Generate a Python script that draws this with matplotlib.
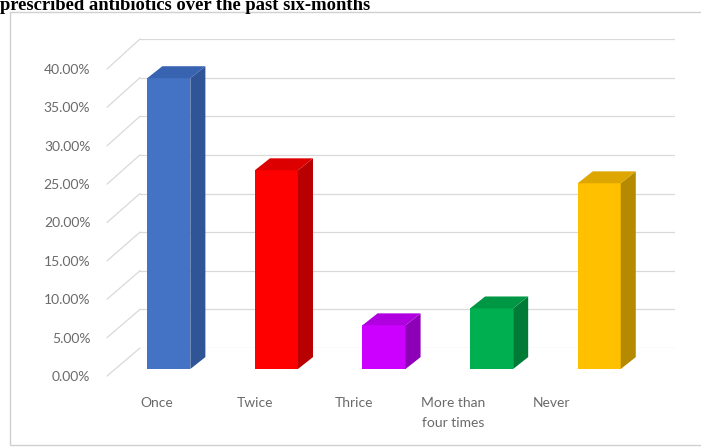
import matplotlib
matplotlib.use("Agg")
import matplotlib.pyplot as plt
from matplotlib.patches import Polygon, Rectangle, ConnectionPatch

# survey answers and shares (%)
categories = ["Once", "Twice", "Thrice", "More than\nfour times", "Never"]
shares = [37.9, 25.9, 5.7, 7.9, 24.2]
y_ticks = [0, 5, 10, 15, 20, 25, 30, 35, 40]
y_labels = ["%.2f%%" % t for t in y_ticks]

# front / side / top colours for each bar
face_colors = ["#4472C4", "#FF0000", "#CC00FF", "#00B050", "#FFC000"]
side_colors = ["#2F5597", "#B80000", "#8E00B8", "#007A37", "#B58A00"]
top_colors = ["#3763B0", "#DD0000", "#B000E0", "#009744", "#DDA600"]

GRID = "#D9D9D9"
TEXT = "#6A6A6A"
BAR_W = 0.40
DEPTH_X = 0.14   # bar depth, category units
DEPTH_Y = 1.55   # bar depth, percent units

W, H = 701, 447
fig = plt.figure(figsize=(W / 100, H / 100), dpi=100)


def pixel_axes(left, right, y0, y40):
    ax = fig.add_axes([left / W, (H - y0) / H, (right - left) / W, (y0 - y40) / H])
    ax.set_xlim(-0.5, 4.5)
    ax.set_ylim(0, 40)
    ax.patch.set_visible(False)
    for s in ax.spines.values():
        s.set_visible(False)
    return ax


# chart frame
fig.patches.append(Rectangle((10 / W, 2 / H), 1.2, (H - 14) / H, transform=fig.transFigure,
                             fill=False, edgecolor="#D0D0D0", lw=1.0))

# title (runs off the top edge)
fig.text(0 / W, 1 - 9.5 / H, "prescribed antibiotics over the past six-months",
         fontfamily="Liberation Serif", fontweight="bold", fontsize=13.4,
         ha="left", va="baseline", color="black")

# back wall
ax_back = pixel_axes(140, 675, 348, 39)
ax_back.set_xticks([])
ax_back.set_yticks([])
for t in y_ticks:
    ax_back.axhline(t, color=GRID, lw=0.9)

# front plane carrying the axis labels
ax_front = pixel_axes(107, 601, 376, 69)
ax_front.set_yticks(y_ticks, y_labels)
ax_front.set_xticks(range(len(categories)), categories)
ax_front.tick_params(axis="y", length=0, pad=12, labelsize=10, labelcolor=TEXT)
ax_front.tick_params(axis="x", length=0, pad=15, labelsize=10, labelcolor=TEXT)
for lab in ax_front.get_yticklabels() + ax_front.get_xticklabels():
    lab.set_fontfamily("Lato")
for lab in ax_front.get_xticklabels():
    lab.set_linespacing(1.8)

# side wall lines joining front and back planes
for t in y_ticks:
    con = ConnectionPatch(xyA=(-0.5, t), coordsA=ax_front.transData,
                          xyB=(-0.5, t), coordsB=ax_back.transData,
                          color=GRID, lw=0.9)
    fig.add_artist(con)

# bars
ax_bar = pixel_axes(115, 653, 369, 62)
ax_bar.set_xticks([])
ax_bar.set_yticks([])
for i, v in enumerate(shares):
    x0, x1 = i - BAR_W / 2, i + BAR_W / 2
    ax_bar.bar(i, v, width=BAR_W, color=face_colors[i], clip_on=False, zorder=3)
    side = Polygon([(x1, 0), (x1 + DEPTH_X, DEPTH_Y), (x1 + DEPTH_X, v + DEPTH_Y), (x1, v)],
                   closed=True, facecolor=side_colors[i], edgecolor="none",
                   clip_on=False, zorder=3)
    top = Polygon([(x0, v), (x1, v), (x1 + DEPTH_X, v + DEPTH_Y), (x0 + DEPTH_X, v + DEPTH_Y)],
                  closed=True, facecolor=top_colors[i], edgecolor="none",
                  clip_on=False, zorder=3)
    ax_bar.add_patch(side)
    ax_bar.add_patch(top)

fig.savefig("out.png", dpi=100)
